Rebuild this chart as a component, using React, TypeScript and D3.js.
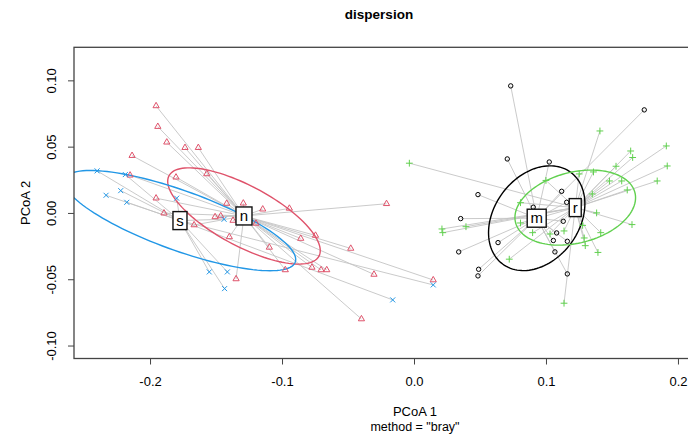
import React from 'react';
import { scaleLinear, line, range } from 'd3';

// group order follows R's default palette: m = black, n = red, r = green, s = blue
const groupNames = ['m', 'n', 'r', 's'];

const mPoints = [
  [0.0729, 0.0962], [0.1741, 0.0781], [0.0703, 0.0411], [0.1021, 0.0388], [0.0481, 0.0142],
  [0.1115, 0.0167], [0.1153, 0.0084], [0.0900, 0.0047], [0.0350, -0.0039], [0.1127, -0.0059],
  [0.1077, -0.0147], [0.1052, -0.0204], [0.1158, -0.0210], [0.0633, -0.0220], [0.0335, -0.0290],
  [0.1064, -0.0290], [0.0486, -0.0421], [0.0481, -0.0471], [0.1158, -0.0456]
];

const nPoints = [
  [-0.1958, 0.0811], [-0.1945, 0.0655], [-0.1877, 0.0537], [-0.1739, 0.0496], [-0.1638, 0.0496],
  [-0.2140, 0.0436], [-0.1807, 0.0273], [-0.1574, 0.0298], [-0.2155, 0.0288], [-0.1958, 0.0115],
  [-0.1898, 0.0002], [-0.1423, 0.0075], [-0.1297, 0.0077], [-0.1511, -0.0026], [-0.1468, -0.0019],
  [-0.1670, -0.0087], [-0.1375, -0.0053], [-0.1403, -0.0177], [-0.1352, -0.0494], [-0.1150, 0.0032],
  [-0.0948, 0.0038], [-0.0212, 0.0073], [-0.1201, -0.0075], [-0.0750, -0.0166], [-0.0862, -0.0189],
  [-0.1100, -0.0256], [-0.0483, -0.0264], [-0.0979, -0.0426], [-0.0777, -0.0407], [-0.0708, -0.0426],
  [-0.0665, -0.0426], [-0.0307, -0.0460], [0.0142, -0.0502], [-0.0402, -0.0796]
];

const rPoints = [
  [0.1405, 0.0622], [0.1638, 0.0471], [0.1653, 0.0422], [0.1908, 0.0509], [0.1915, 0.0358],
  [0.1527, 0.0356], [0.1839, 0.0245], [0.1477, 0.0245], [0.1570, 0.0245], [0.1612, 0.0177],
  [0.1356, 0.0313], [0.1248, 0.0298], [0.0996, 0.0249], [0.0803, 0.0081], [0.0803, -0.0072],
  [0.1347, 0.0147], [0.1380, 0.0004], [0.1648, -0.0084], [0.1411, -0.0145], [0.1286, -0.0185],
  [0.1294, -0.0243], [0.1390, -0.0294], [0.1274, -0.0090], [0.1133, -0.0132], [0.1027, -0.0155],
  [0.0895, -0.0145], [0.0718, -0.0345], [0.0390, -0.0100], [0.0208, -0.0117], [0.0214, -0.0145],
  [0.1133, -0.0677], [-0.0039, 0.0379]
];

const sPoints = [
  [-0.2405, 0.0321], [-0.2191, 0.0293], [-0.2226, 0.0172], [-0.2337, 0.0137], [-0.2180, 0.0084],
  [-0.1802, 0.0115], [-0.1443, -0.0044], [-0.1555, -0.0441], [-0.1418, -0.0441], [-0.1439, -0.0567],
  [-0.0165, -0.0652], [0.0142, -0.0539]
];

const centroidX = [0.0926, -0.1292, 0.1218, -0.1777];
const centroidY = [-0.0036, -0.0019, 0.0044, -0.0054];

// dispersion ellipses: sd along each axis and correlation
const ellipseSdX = [0.0365, 0.0578, 0.0457, 0.0877];
const ellipseSdY = [0.0395, 0.0363, 0.0283, 0.0378];
const ellipseRho = [0.277, -0.719, 0.264, -0.776];

const xTicks = [-0.2, -0.1, 0.0, 0.1, 0.2];
const yTicks = [-0.10, -0.05, 0.00, 0.05, 0.10];

const colors = ['#000000', '#DF536B', '#61D04F', '#2297E6'];
const font = '"Liberation Sans", Arial, Helvetica, sans-serif';

function Marker({ kind, x, y, color }) {
  if (kind === 0) return <circle cx={x} cy={y} r={2.2} fill="none" stroke={color} strokeWidth={1} />;
  if (kind === 1) {
    const d = `M${x},${y - 3.6}L${x + 3.1},${y + 1.8}L${x - 3.1},${y + 1.8}Z`;
    return <path d={d} fill="none" stroke={color} strokeWidth={1} />;
  }
  if (kind === 2) {
    const d = `M${x - 3.4},${y}H${x + 3.4}M${x},${y - 3.4}V${y + 3.4}`;
    return <path d={d} stroke={color} strokeWidth={1} />;
  }
  const d = `M${x - 2.5},${y - 2.5}L${x + 2.5},${y + 2.5}M${x - 2.5},${y + 2.5}L${x + 2.5},${y - 2.5}`;
  return <path d={d} stroke={color} strokeWidth={1} />;
}

export default function App() {
  const width = 688;
  const height = 441;
  const left = 74;
  const top = 47.3;
  const bottom = 358.5;

  const x = scaleLinear().domain([-0.258, 0.258]).range([left, 755]);
  const y = scaleLinear().domain([-0.1094, 0.1253]).range([bottom, top]);

  const groups = [mPoints, nPoints, rPoints, sPoints];

  const ellipseLine = line().x(d => x(d[0])).y(d => y(d[1]));
  const ellipses = groupNames.map((g, i) => {
    const k = Math.sqrt(1 - ellipseRho[i] * ellipseRho[i]);
    const pts = range(0, 121).map(j => {
      const t = (j / 120) * Math.PI * 2;
      return [
        centroidX[i] + ellipseSdX[i] * Math.cos(t),
        centroidY[i] + ellipseSdY[i] * (ellipseRho[i] * Math.cos(t) + k * Math.sin(t))
      ];
    });
    return ellipseLine(pts);
  });

  const boxW = { m: 19, n: 16, r: 12, s: 14 };

  return (
    <svg width={width} height={height} style={{ position: 'absolute', left: 0, top: 0, background: '#fff' }}
      fontFamily={font}>
      <defs>
        <clipPath id="plotArea">
          <rect x={left} y={top} width={width - left + 20} height={bottom - top} />
        </clipPath>
      </defs>

      <text x={379} y={19} textAnchor="middle" fontWeight="bold" fontSize={13.5}>dispersion</text>

      <g clipPath="url(#plotArea)">
        {groups.map((pts, gi) => pts.map((p, i) => (
          <line key={`seg${gi}-${i}`} x1={x(p[0])} y1={y(p[1])} x2={x(centroidX[gi])} y2={y(centroidY[gi])}
            stroke="#c4c4c4" strokeWidth={0.9} />
        )))}
        {ellipses.map((d, i) => (
          <path key={`el${i}`} d={d} fill="none" stroke={colors[i]} strokeWidth={1.4} />
        ))}
        {groups.map((pts, gi) => pts.map((p, i) => (
          <Marker key={`pt${gi}-${i}`} kind={gi} x={x(p[0])} y={y(p[1])} color={colors[gi]} />
        )))}
        {groupNames.map((g, i) => {
          const cx = x(centroidX[i]);
          const cy = y(centroidY[i]);
          const w = boxW[g];
          return (
            <g key={`lab${g}`}>
              <rect x={cx - w / 2} y={cy - 9} width={w} height={18} fill="#fff" stroke="#111" strokeWidth={1.4} />
              <text x={cx} y={cy + 5} textAnchor="middle" fontSize={15}>{g}</text>
            </g>
          );
        })}
      </g>

      <rect x={left} y={top} width={width + 40 - left} height={bottom - top} fill="none" stroke="#444" strokeWidth={1.3} />

      {xTicks.map(t => (
        <g key={`xt${t}`}>
          <line x1={x(t)} x2={x(t)} y1={bottom} y2={bottom + 6} stroke="#444" />
          <text x={x(t)} y={386} textAnchor="middle" fontSize={13}>{t.toFixed(1)}</text>
        </g>
      ))}
      {yTicks.map(t => (
        <g key={`yt${t}`}>
          <line x1={left - 6} x2={left} y1={y(t)} y2={y(t)} stroke="#444" />
          <text transform={`translate(56,${y(t)}) rotate(-90)`} textAnchor="middle" fontSize={13}>{t.toFixed(2)}</text>
        </g>
      ))}

      <text transform={`translate(30,${(top + bottom) / 2}) rotate(-90)`} textAnchor="middle" fontSize={13}>PCoA 2</text>
      <text x={415} y={416} textAnchor="middle" fontSize={13}>PCoA 1</text>
      <text x={415} y={431} textAnchor="middle" fontSize={12.5}>method = "bray"</text>
    </svg>
  );
}
